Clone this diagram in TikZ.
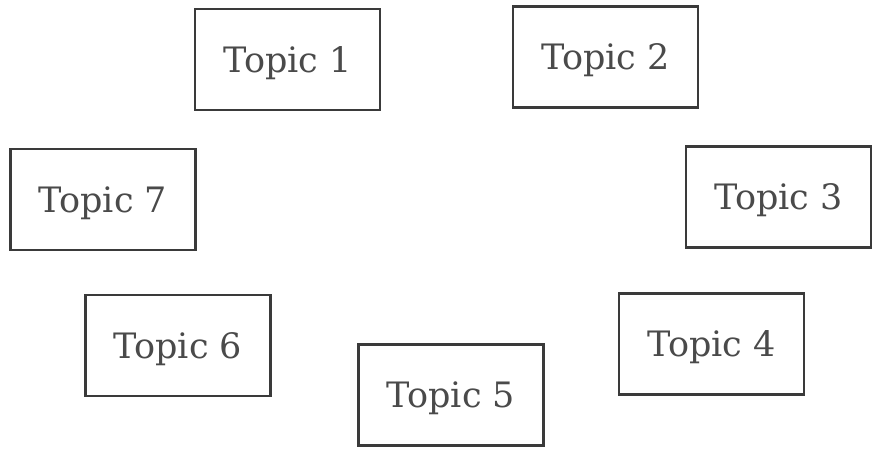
\documentclass[tikz,border=0pt]{standalone}
\usepackage{fontspec}
\setmainfont{DejaVu Serif}
\usepackage{xcolor}
\definecolor{boxline}{HTML}{3A3A3A}
\definecolor{boxtext}{HTML}{4A4A4A}
\begin{document}
\begin{tikzpicture}[x=1pt,y=-1pt,
  topicbox/.style={draw=boxline, line width=2.6pt, rectangle,
    minimum width=185pt, minimum height=101pt, inner sep=0pt,
    text height=25.5pt, text depth=0pt, text=boxtext,
    font=\fontsize{35}{40}\selectfont}]
\useasboundingbox (0,0) rectangle (882,448);
\node[topicbox] (t1) at (287.5,59.5) {Topic 1};
\node[topicbox] (t2) at (605.5,57) {Topic 2};
\node[topicbox] (t3) at (778.5,197) {Topic 3};
\node[topicbox] (t4) at (711.5,344) {Topic 4};
\node[topicbox] (t5) at (451,395) {Topic 5};
\node[topicbox] (t6) at (178,345.5) {Topic 6};
\node[topicbox] (t7) at (103,199.5) {Topic 7};
\end{tikzpicture}
\end{document}
